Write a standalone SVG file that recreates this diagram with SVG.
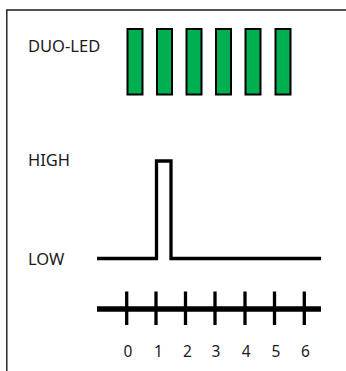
<svg xmlns="http://www.w3.org/2000/svg" width="346" height="371" viewBox="0 0 346 371">
<style>
.lbl{font-family:"Noto Sans","Open Sans",sans-serif;font-size:16.5px;fill:#1a1a1a}
.num{font-family:"Noto Sans","Open Sans",sans-serif;font-size:15.5px;fill:#1a1a1a;text-anchor:middle}
.led{fill:#00B050;stroke:#000;stroke-width:2}
.tick{stroke:#000;stroke-width:3.3}
</style>
<rect width="346" height="371" fill="#fff"/>
<path d="M6.8,380 V10 H360" fill="none" stroke="#1a1a1a" stroke-width="1.4"/>
<g id="duo-led-label"><text class="lbl" x="28" y="52">DUO-LED</text></g>
<g id="leds">
<rect class="led" x="127.5" y="29" width="15" height="65.5"/>
<rect class="led" x="157" y="29" width="15" height="65.5"/>
<rect class="led" x="186.5" y="29" width="15" height="65.5"/>
<rect class="led" x="216" y="29" width="15" height="65.5"/>
<rect class="led" x="245.5" y="29" width="15" height="65.5"/>
<rect class="led" x="275.5" y="29" width="15" height="65.5"/>
</g>
<g id="high-label"><text class="lbl" x="28" y="166">HIGH</text></g>
<g id="low-label"><text class="lbl" x="28" y="265">LOW</text></g>
<g id="signal"><path d="M97,258.5 H156.5 V161 H171 V258.5 H321" fill="none" stroke="#000" stroke-width="3.3"/></g>
<g id="axis">
<line x1="97" y1="309" x2="321" y2="309" stroke="#000" stroke-width="5.5"/>
<line class="tick" x1="126.7" y1="291.5" x2="126.7" y2="325"/>
<line class="tick" x1="156" y1="291.5" x2="156" y2="325"/>
<line class="tick" x1="185.5" y1="291.5" x2="185.5" y2="325"/>
<line class="tick" x1="215" y1="291.5" x2="215" y2="325"/>
<line class="tick" x1="245" y1="291.5" x2="245" y2="325"/>
<line class="tick" x1="274.5" y1="291.5" x2="274.5" y2="325"/>
<line class="tick" x1="304.3" y1="291.5" x2="304.3" y2="325"/>
</g>
<g id="numbers">
<text class="num" x="128" y="356.5">0</text>
<text class="num" x="158.5" y="356.5">1</text>
<text class="num" x="187.5" y="356.5">2</text>
<text class="num" x="216" y="356.5">3</text>
<text class="num" x="246.3" y="356.5">4</text>
<text class="num" x="276" y="356.5">5</text>
<text class="num" x="305.5" y="356.5">6</text>
</g>
</svg>
